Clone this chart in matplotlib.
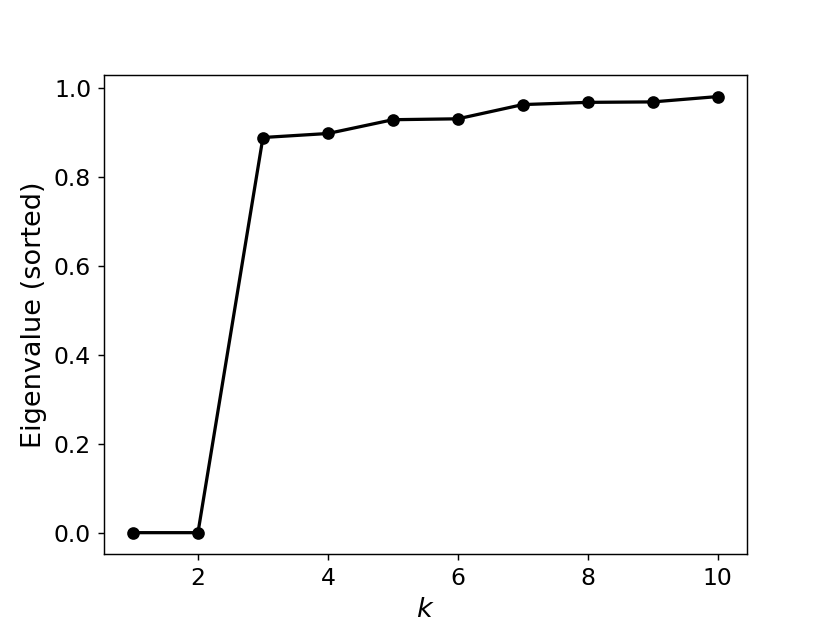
import numpy as np
import matplotlib.pyplot as plt

k = [1, 2, 3, 4, 5, 6, 7, 8, 9, 10]
eigvals = [0.0, 0.0, 0.888, 0.897, 0.928, 0.930, 0.962, 0.967, 0.968, 0.980]

fig, ax = plt.subplots(figsize=(830 / 130, 623 / 130), dpi=130)
ax.plot(k, eigvals, marker="o", color="black", linewidth=1.8)

ax.set_xticks([2, 4, 6, 8, 10])
ax.set_yticks([0.0, 0.2, 0.4, 0.6, 0.8, 1.0])
ax.tick_params(labelsize=13)

ax.set_xlabel('$k$', fontsize=15)
ax.set_ylabel('Eigenvalue (sorted)', fontsize=15)

plt.savefig("out.png", dpi=130)
